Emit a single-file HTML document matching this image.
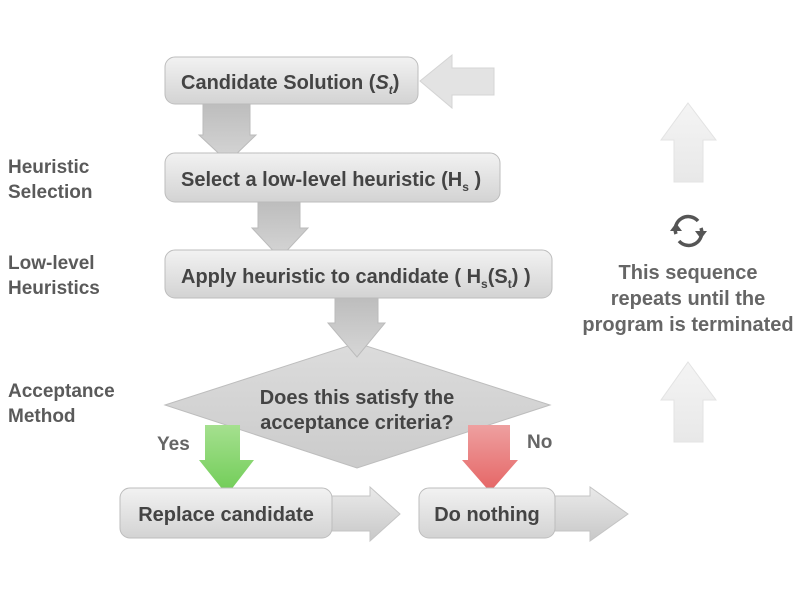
<!DOCTYPE html>
<html><head><meta charset="utf-8"><style>
html,body{margin:0;padding:0;background:#fff;}
svg{display:block;}
text{font-family:"Liberation Sans",Arial,sans-serif;font-weight:bold;}
</style></head><body>
<svg width="800" height="600" viewBox="0 0 800 600" xmlns="http://www.w3.org/2000/svg">
<defs>
<linearGradient id="box" x1="0" y1="0" x2="0" y2="1"><stop offset="0" stop-color="#f2f2f2"/><stop offset="1" stop-color="#d3d3d3"/></linearGradient>
<linearGradient id="arr" x1="0" y1="0" x2="0" y2="1"><stop offset="0" stop-color="#bdbdbd"/><stop offset="1" stop-color="#d6d6d6"/></linearGradient>
<linearGradient id="harr" x1="0" y1="0" x2="0" y2="1"><stop offset="0" stop-color="#eaeaea"/><stop offset="1" stop-color="#c8c8c8"/></linearGradient>
<linearGradient id="green" x1="0" y1="0" x2="0" y2="1"><stop offset="0" stop-color="#a5e08f"/><stop offset="1" stop-color="#6fcc55"/></linearGradient>
<linearGradient id="red" x1="0" y1="0" x2="0" y2="1"><stop offset="0" stop-color="#eea0a0"/><stop offset="1" stop-color="#e56464"/></linearGradient>
<linearGradient id="dia" x1="0" y1="0" x2="0" y2="1"><stop offset="0" stop-color="#dcdcdc"/><stop offset="1" stop-color="#cbcbcb"/></linearGradient>
<linearGradient id="faint" x1="0" y1="0" x2="0" y2="1"><stop offset="0" stop-color="#f4f4f4"/><stop offset="1" stop-color="#e8e8e8"/></linearGradient>
</defs>

<polygon points="420,81 452,55 452,68 494,68 494,95 452,95 452,108" fill="#e3e3e3" stroke="#d4d4d4"/>

<rect x="165" y="57" width="253" height="47" rx="10" fill="url(#box)" stroke="#bdbdbd"/>
<text x="181" y="89" font-size="20" fill="#444">Candidate Solution (<tspan font-style="italic">S</tspan><tspan font-style="italic" font-size="12" dy="5">t</tspan><tspan dy="-5">)</tspan></text>

<polygon points="203,104 250,104 250,135 256,135 228,162 199,135 203,135" fill="url(#arr)" stroke="#bbb"/>

<rect x="165" y="153" width="335" height="49" rx="10" fill="url(#box)" stroke="#bdbdbd"/>
<text x="181" y="186" font-size="20" fill="#444">Select a low-level heuristic (H<tspan font-size="12" dy="5">s</tspan><tspan dy="-5"> )</tspan></text>

<polygon points="258,202 300,202 300,228 308,228 280,258 252,228 258,228" fill="url(#arr)" stroke="#bbb"/>

<rect x="165" y="250" width="387" height="48" rx="10" fill="url(#box)" stroke="#bdbdbd"/>
<text x="181" y="283" font-size="20" fill="#444">Apply heuristic to candidate ( H<tspan font-size="12" dy="5">s</tspan><tspan dy="-5">(S</tspan><tspan font-size="12" dy="5">t</tspan><tspan dy="-5">) )</tspan></text>

<polygon points="165,405 357,343 550,405 357,468" fill="url(#dia)" stroke="#bdbdbd"/>

<polygon points="335,298 378,298 378,323 385,323 357,357 328,323 335,323" fill="url(#arr)" stroke="#bbb"/>

<text x="357" y="404" font-size="20" fill="#444" text-anchor="middle">Does this satisfy the</text>
<text x="357" y="429" font-size="20" fill="#444" text-anchor="middle">acceptance criteria?</text>

<polygon points="205,425 240,425 240,460 254,460 227,495 199,460 205,460" fill="url(#green)"/>
<polygon points="468,425 510,425 510,460 518,460 490,492 462,460 468,460" fill="url(#red)"/>

<text x="157" y="450" font-size="19" fill="#666">Yes</text>
<text x="527" y="448" font-size="19" fill="#666">No</text>

<polygon points="332,496 370,496 370,487 400,514 370,541 370,531 332,531" fill="url(#harr)" stroke="#c4c4c4"/>
<polygon points="555,496 590,496 590,487 628,514 590,541 590,531 555,531" fill="url(#harr)" stroke="#c4c4c4"/>

<rect x="120" y="488" width="212" height="50" rx="10" fill="url(#box)" stroke="#bdbdbd"/>
<text x="226" y="521" font-size="20" fill="#444" text-anchor="middle">Replace candidate</text>
<rect x="419" y="488" width="136" height="50" rx="10" fill="url(#box)" stroke="#bdbdbd"/>
<text x="487" y="521" font-size="20" fill="#444" text-anchor="middle">Do nothing</text>

<g font-size="19" fill="#5a5a5a">
<text x="8" y="173">Heuristic</text>
<text x="8" y="198">Selection</text>
<text x="8" y="269">Low-level</text>
<text x="8" y="294">Heuristics</text>
<text x="8" y="397">Acceptance</text>
<text x="8" y="422">Method</text>
</g>

<polygon points="688,103 716,140 703,140 703,182 674,182 674,140 661,140" fill="url(#faint)" stroke="#e3e3e3"/>
<polygon points="688,362 716,400 703,400 703,442 674,442 674,400 661,400" fill="url(#faint)" stroke="#e3e3e3"/>

<g fill="none" stroke="#555" stroke-width="3.5">
<path d="M676,234 A13,13 0 0 1 698,221"/>
<path d="M701,228 A13,13 0 0 1 679,241"/>
</g>
<polygon points="670,231 682,231 676,223" fill="#555"/>
<polygon points="695,231 707,231 701,239" fill="#555"/>

<g font-size="20" fill="#666" text-anchor="middle">
<text x="688" y="279">This sequence</text>
<text x="688" y="305">repeats until the</text>
<text x="688" y="331">program is terminated</text>
</g>
</svg>
</body></html>
